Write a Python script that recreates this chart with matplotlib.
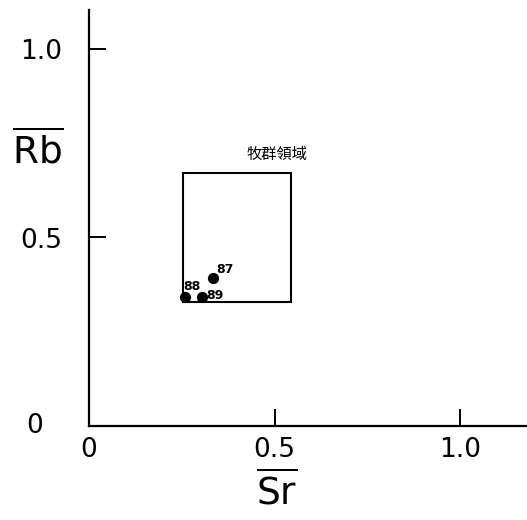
import matplotlib
matplotlib.use("Agg")
import matplotlib.pyplot as plt
from matplotlib.patches import Rectangle

# data
sample_ids = ["87", "88", "89"]
sr_vals = [0.334, 0.259, 0.305]
rb_vals = [0.393, 0.342, 0.342]
label_dx = [0.033, 0.019, 0.035]
label_dy = [0.021, 0.027, 0.005]

field_name = "牧群領域"
field_sr = (0.253, 0.545)
field_rb = (0.329, 0.671)

x_ticks = [0, 0.5, 1.0]
x_tick_labels = ["0", "0.5", "1.0"]
y_ticks = [0.5, 1.0]
y_tick_labels = ["0.5", "1.0"]

fig = plt.figure(figsize=(5.27, 5.20), dpi=100)
ax = fig.add_axes([89 / 527, 94 / 520, 438 / 527, 416 / 520])

ax.set_xlim(0, 438 / 371)
ax.set_ylim(0, 416 / 377)

for s in ["top", "right"]:
    ax.spines[s].set_visible(False)
for s in ["left", "bottom"]:
    ax.spines[s].set_linewidth(1.6)

ax.set_xticks(x_ticks)
ax.set_xticklabels(x_tick_labels)
ax.set_yticks(y_ticks)
ax.set_yticklabels(y_tick_labels)
ax.tick_params(axis="both", direction="in", length=12.5, width=1.4, labelsize=19)
ax.tick_params(axis="x", pad=8)
ax.tick_params(axis="y", pad=19)
# the y-axis zero sits further out than the other labels
ax.text(-0.146, 0, "0", fontsize=19, ha="center", va="center")

# field box
ax.add_patch(Rectangle((field_sr[0], field_rb[0]), field_sr[1] - field_sr[0],
                       field_rb[1] - field_rb[0], fill=False, lw=1.5, color="black"))
ax.text(0.507, field_rb[1] + 0.05, field_name,
        ha="center", va="center", fontsize=11, family=["Noto Sans CJK TC", "DejaVu Sans"])

ax.scatter(sr_vals, rb_vals, s=50, color="black", zorder=3)
for sid, x, y, dx, dy in zip(sample_ids, sr_vals, rb_vals, label_dx, label_dy):
    ax.text(x + dx, y + dy, sid, fontsize=9, fontweight="bold", ha="center", va="center")

ax.text(-0.137, 0.73, r"$\overline{\mathrm{Rb}}$", fontsize=27, ha="center", va="center",
        clip_on=False)
ax.text(0.505, -0.175, r"$\overline{\mathrm{Sr}}$", fontsize=27, ha="center", va="center",
        clip_on=False)

fig.savefig("out.png", dpi=100)
